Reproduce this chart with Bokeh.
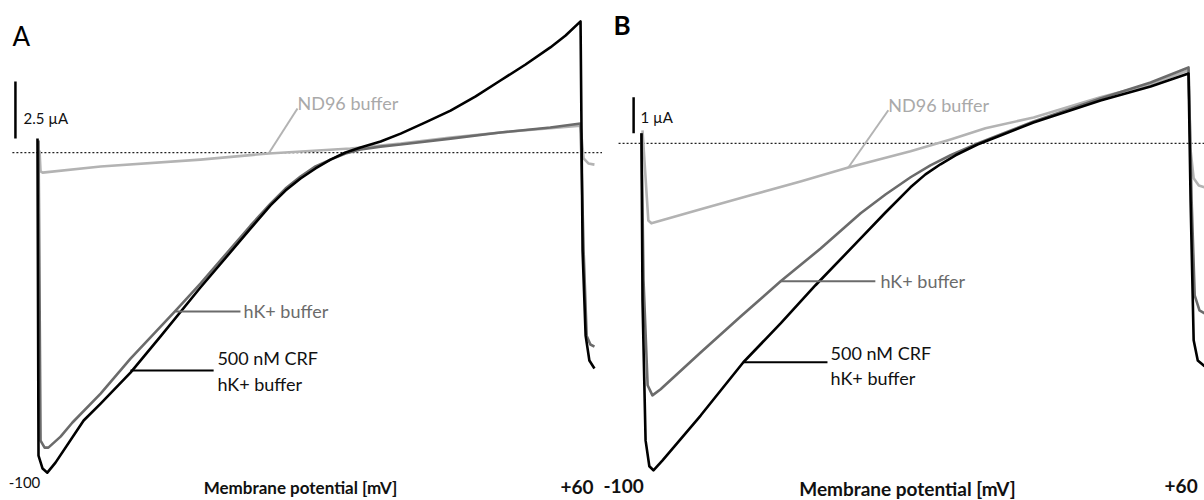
from bokeh.plotting import figure
from bokeh.layouts import row
from bokeh.models import Range1d
from bokeh.core.properties import value
from bokeh.embed import file_html
from bokeh.resources import INLINE

# ---------------- Panel A data (x: membrane potential mV, y: current uA) ----------------
a_crf_x = [-100.0, -99.7, -98.5, -97.1, -94.7, -86.4, -81.4, -72.6, -63.8, -52.0, -37.2, -31.35,
           -26.93, -22.5, -18.09, -13.67, -9.25, -4.83, 1.1, 7.0, 14.3, 21.7, 29.1, 36.4, 43.8,
           51.1, 55.6, 60.0, 60.6, 61.5, 62.6, 64.1]
a_crf_y = [0.61, -13.29, -13.86, -14.04, -13.60, -11.75, -11.01, -9.65, -8.07, -5.92, -3.33, -2.32,
           -1.67, -1.14, -0.70, -0.31, 0.00, 0.22, 0.48, 0.83, 1.32, 1.84, 2.46, 3.16, 3.86,
           4.61, 5.13, 5.75, -4.30, -8.03, -9.12, -9.47]

a_hk_x = [-99.7, -99.1, -97.9, -96.8, -93.2, -89.7, -81.4, -72.6, -59.3, -52.0, -37.2, -31.35,
          -26.93, -22.5, -18.09, -13.67, -9.25, -4.83, 1.06, 7.0, 21.7, 36.4, 51.1, 60.0, 60.9,
          61.8, 62.9, 64.1]
a_hk_y = [0.53, -12.63, -12.94, -12.94, -12.46, -11.84, -10.57, -9.04, -6.93, -5.75, -3.20, -2.24,
          -1.58, -1.05, -0.61, -0.31, -0.04, 0.13, 0.26, 0.35, 0.61, 0.88, 1.10, 1.27, -4.30,
          -8.03, -8.42, -8.51]

a_nd_x = [-99.4, -99.1, -98.5, -81.4, -52.0, -31.9, -7.8, 7.0, 21.7, 36.4, 60.0, 60.9, 62.3, 64.1]
a_nd_y = [0.09, -0.83, -0.88, -0.61, -0.31, -0.04, 0.18, 0.39, 0.66, 0.88, 1.18, -0.26, -0.48, -0.53]

# ---------------- Panel B data ----------------
b_crf_x = [-100.0, -99.7, -98.8, -97.7, -96.5, -93.9, -82.7, -70.2, -59.3, -49.1, -35.9, -28.64,
           -21.32, -16.94, -12.55, -8.16, -1.73, 5.0, 14.65, 34.25, 48.9, 60.0, 60.6, 61.5, 62.7,
           64.7]
b_crf_y = [0.28, -4.36, -8.25, -8.97, -9.08, -8.81, -7.56, -6.08, -5.00, -3.94, -2.64, -1.92,
           -1.22, -0.86, -0.58, -0.33, -0.03, 0.22, 0.58, 1.19, 1.58, 1.94, -1.58, -5.47, -6.03,
           -6.19]

b_hk_x = [-100.0, -99.4, -98.2, -96.8, -94.4, -82.7, -71.0, -59.3, -47.6, -35.9, -28.64, -21.3,
          -15.5, -9.6, -1.7, 5.0, 14.7, 34.2, 48.9, 60.0, 60.9, 61.8, 63.2, 64.7]
b_hk_y = [0.28, -3.81, -6.72, -7.00, -6.83, -5.81, -4.81, -3.83, -2.92, -1.94, -1.42, -0.94,
          -0.61, -0.33, 0.00, 0.25, 0.61, 1.25, 1.69, 2.11, -1.58, -4.22, -4.64, -4.72]

b_nd_x = [-99.7, -98.0, -97.1, -82.7, -68.1, -53.5, -39.5, -21.3, -9.6, 0.6, 14.7, 34.2, 48.9,
          60.0, 60.6, 61.5, 63.0, 64.7]
b_nd_y = [0.36, -2.14, -2.22, -1.83, -1.44, -1.06, -0.67, -0.22, 0.11, 0.42, 0.72, 1.28, 1.64,
          2.03, -0.19, -0.97, -1.17, -1.22]

scale_a = 2.5   # uA
scale_b = 1.0   # uA
ramp_start_label = "-100"
ramp_end_label = "+60"
axis_label = "Membrane potential [mV]"

C_CRF = "#000000"
C_HK = "#6b6b6b"
C_ND = "#b3b3b3"
FONT = value("Lato")


def txt(p, x, y, s, size, color="#111111", bold=False, align="left"):
    p.text(x=x, y=y, text=s, text_font=FONT, text_font_size=size, text_baseline="middle",
           text_align=align, text_font_style="bold" if bold else "normal", text_color=color)


def make_panel(xr, yr, crf, hk, nd, scale, scale_x, scale_y0, scale_txt, letter, letter_bold,
               letter_pos, zero_x, lbl, start_bold, start_size, axis_size):
    p = figure(width=602, height=500, x_range=Range1d(*xr), y_range=Range1d(*yr),
               output_backend="svg", toolbar_location=None, min_border=0)
    p.axis.visible = False
    p.grid.visible = False
    p.outline_line_color = None
    p.background_fill_color = "white"

    # zero line
    p.line(zero_x, [0, 0], line_color="#222222", line_width=1.2, line_dash="2 2")

    # traces
    for (xs, ys), c in ((nd, C_ND), (hk, C_HK), (crf, C_CRF)):
        p.line(xs, ys, line_color=c, line_width=2.6, line_join="round")

    # scale bar
    p.line([scale_x, scale_x], [scale_y0, scale_y0 + scale], line_color="black", line_width=2.5)
    txt(p, [lbl["scale_txt"][0]], [lbl["scale_txt"][1]], [scale_txt], "15px")

    # panel letter
    txt(p, [letter_pos[0]], [letter_pos[1]], [letter], "26px", "black", letter_bold)

    # trace labels with pointer lines
    p.line(lbl["nd_ptr"][0], lbl["nd_ptr"][1], line_color=C_ND, line_width=2)
    txt(p, [lbl["nd_txt"][0]], [lbl["nd_txt"][1]], ["ND96 buffer"], "18px", "#a9a9a9")
    p.line(lbl["hk_ptr"][0], lbl["hk_ptr"][1], line_color=C_HK, line_width=2)
    txt(p, [lbl["hk_txt"][0]], [lbl["hk_txt"][1]], ["hK+ buffer"], "18px", "#6b6b6b")
    p.line(lbl["crf_ptr"][0], lbl["crf_ptr"][1], line_color=C_CRF, line_width=2)
    txt(p, [lbl["crf_txt"][0]] * 2, [lbl["crf_txt"][1], lbl["crf_txt"][2]],
        ["500 nM CRF", "hK+ buffer"], "18px")

    # potential labels
    txt(p, [lbl["start"][0]], [lbl["start"][1]], [ramp_start_label], start_size, "#111111", start_bold)
    txt(p, [lbl["end"][0]], [lbl["end"][1]], [ramp_end_label], "19px", "#111111", True)
    txt(p, [lbl["axis"][0]], [lbl["axis"][1]], [axis_label], axis_size, "#111111", True, "center")
    return p


lbl_a = {
    "scale_txt": (-104.1, 1.53),
    "nd_ptr": ([-31.9, -23.4], [-0.04, 1.93]),
    "nd_txt": (-23.4, 2.19),
    "hk_ptr": ([-59.3, -40.2], [-6.97, -6.97]),
    "hk_txt": (-39.3, -6.97),
    "crf_ptr": ([-72.6, -48.1], [-9.56, -9.56]),
    "crf_txt": (-47.0, -8.99, -10.13),
    "start": (-108.5, -14.47),
    "end": (54.1, -14.65),
    "axis": (-22.5, -14.69),
}
lbl_b = {
    "scale_txt": (-100.3, 0.72),
    "nd_ptr": ([-39.5, -27.8], [-0.67, 0.92]),
    "nd_txt": (-27.8, 1.08),
    "hk_ptr": ([-59.3, -31.6], [-3.83, -3.83]),
    "hk_txt": (-30.1, -3.83),
    "crf_ptr": ([-70.2, -45.6], [-6.08, -6.08]),
    "crf_txt": (-44.7, -5.81, -6.53),
    "start": (-111.1, -9.53),
    "end": (53.0, -9.53),
    "axis": (-22.2, -9.6),
}

pa = make_panel((-110.9, 66.47), (-15.26, 6.667),
                (a_crf_x, a_crf_y), (a_hk_x, a_hk_y), (a_nd_x, a_nd_y),
                scale_a, -106.5, 0.61, "2.5 µA", "A", False, (-107.4, 5.13),
                [-107.4, 66.47], lbl_a, False, "15px", "17px")
pb = make_panel((-111.4, 64.67), (-9.92, 3.97),
                (b_crf_x, b_crf_y), (b_hk_x, b_hk_y), (b_nd_x, b_nd_y),
                scale_b, -102.3, 0.28, "1 µA", "B", True, (-108.2, 3.28),
                [-106.7, 64.67], lbl_b, True, "19px", "19px")

layout = row(pa, pb)
open("out.html", "w").write(file_html(layout, INLINE))
